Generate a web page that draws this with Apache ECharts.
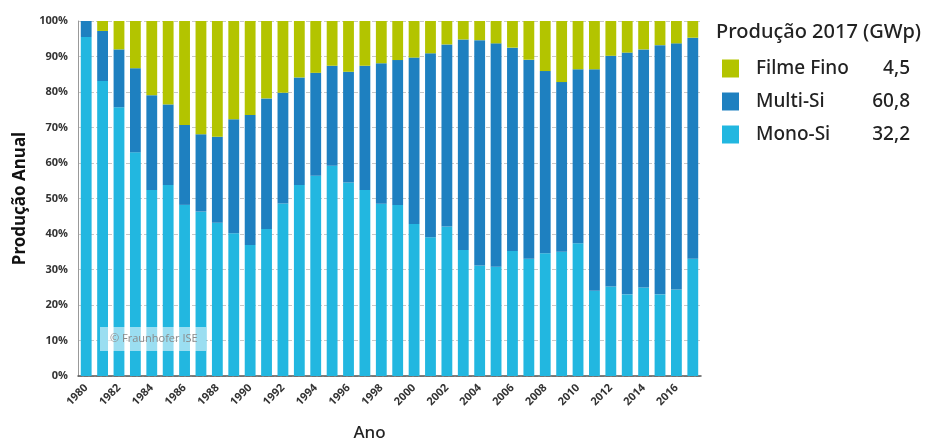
<!DOCTYPE html>
<html>
<head>
<meta charset="utf-8">
<script src="https://cdn.jsdelivr.net/npm/echarts@6/dist/echarts.min.js"></script>
<style>
html,body{margin:0;padding:0;background:#fff;}
#c{width:925px;height:440px;}
</style>
</head>
<body>
<div id="c"></div>
<script>
const years = ["1980","1981","1982","1983","1984","1985","1986","1987","1988","1989",
  "1990","1991","1992","1993","1994","1995","1996","1997","1998","1999",
  "2000","2001","2002","2003","2004","2005","2006","2007","2008","2009",
  "2010","2011","2012","2013","2014","2015","2016","2017"];
const monoSi = [95.5,83.1,75.7,63.0,52.4,53.8,48.2,46.3,43.2,40.2,
  36.9,41.4,48.6,53.8,56.4,59.2,54.5,52.4,48.5,48.2,
  42.8,39.1,42.1,35.5,31.1,30.8,35.2,33.0,34.6,35.0,
  37.4,24.0,25.2,23.0,24.9,23.0,24.4,33.0];
const multiSi = [4.5,14.1,16.3,23.7,26.7,22.7,22.5,21.8,24.2,32.1,
  36.6,36.8,31.2,30.3,29.0,28.2,31.2,35.0,39.6,40.8,
  46.9,51.8,51.3,59.3,63.5,62.9,57.3,56.1,51.3,47.8,
  49.0,62.4,65.0,68.1,67.1,70.2,69.3,62.3];
const filmeFino = [0,2.8,8.0,13.3,20.9,23.5,29.3,31.9,32.6,27.7,
  26.5,21.8,20.2,15.9,14.6,12.6,14.3,12.6,11.9,11.0,
  10.3,9.1,6.6,5.2,5.4,6.3,7.5,10.9,14.1,17.2,
  13.6,13.6,9.8,8.9,8.0,6.8,6.3,4.7];
const legendNames = ["Filme Fino","Multi-Si","Mono-Si"];
const production2017 = ["4,5","60,8","32,2"];
const yTicks = [0,10,20,30,40,50,60,70,80,90,100];

const colors = {"Mono-Si":"#22b7e0","Multi-Si":"#1e80c0","Filme Fino":"#b3c400"};
const font = "'Open Sans', 'Noto Sans', sans-serif";

const chart = echarts.init(document.getElementById('c'), null, {renderer:'canvas'});
function mk(name, data){
  return {name:name, type:'bar', stack:'total', data:data, barWidth:'66%',
    itemStyle:{color:colors[name]}, emphasis:{disabled:true}};
}
chart.setOption({
  animation:false,
  textStyle:{fontFamily:font},
  grid:{left:78, right:224, top:21, bottom:64, outerBoundsMode:'none', containLabel:false},
  title:{text:"Produção 2017 (GWp)", left:716, top:22, padding:0,
    textStyle:{fontFamily:"'Noto Sans',sans-serif", fontSize:20, fontWeight:500, color:'#222'}},
  legend:{
    orient:'vertical', left:722, top:59, itemGap:14, itemWidth:17, itemHeight:18, padding:0,
    data:legendNames, selectedMode:false, icon:'rect',
    formatter:function(n){ const i=legendNames.indexOf(n); return '{n|'+n+'}{v|'+production2017[i]+'}'; },
    textStyle:{fontFamily:"'Noto Sans',sans-serif", fontSize:19, fontWeight:500, color:'#222',
      rich:{n:{width:98, padding:[0,0,0,12], fontSize:19, fontWeight:500, color:'#222'},
            v:{width:56, align:'right', fontSize:19, fontWeight:500, color:'#222'}}}
  },
  xAxis:{
    type:'category', data:years,
    name:'Ano', nameLocation:'middle', nameGap:49,
    nameTextStyle:{fontSize:17, fontWeight:500, color:'#222', padding:[0,40,0,0], fontFamily:"'Noto Sans',sans-serif"},
    axisLine:{lineStyle:{color:'#555', width:1.5}},
    axisTick:{alignWithLabel:true, interval:0, lineStyle:{color:'#555'}, length:4},
    axisLabel:{interval:1, rotate:45, fontSize:11, fontWeight:'bold', color:'#333', margin:10}
  },
  yAxis:{
    type:'value', min:0, max:100, interval:10,
    name:'Produção Anual', nameLocation:'middle', nameGap:49,
    nameTextStyle:{fontSize:17, fontWeight:'bold', color:'#111', fontFamily:"'Noto Sans',sans-serif"},
    axisLine:{show:true, lineStyle:{color:'#999'}},
    axisTick:{show:false},
    axisLabel:{formatter:'{value}%', fontSize:11, fontWeight:'bold', color:'#333', margin:10},
    splitLine:{lineStyle:{color:'#c8c8c8', type:'dashed'}}
  },
  series:[mk('Mono-Si',monoSi), mk('Multi-Si',multiSi), mk('Filme Fino',filmeFino)],
  graphic:[
    {type:'rect', left:100, top:327, shape:{width:106, height:24}, z:100,
      style:{fill:'rgba(255,255,255,0.55)'}},
    {type:'text', left:110, top:333, z:101,
      style:{text:'© Fraunhofer ISE', fontSize:11, fill:'#8a8a8a', fontFamily:font}}
  ]
});
</script>
</body>
</html>
